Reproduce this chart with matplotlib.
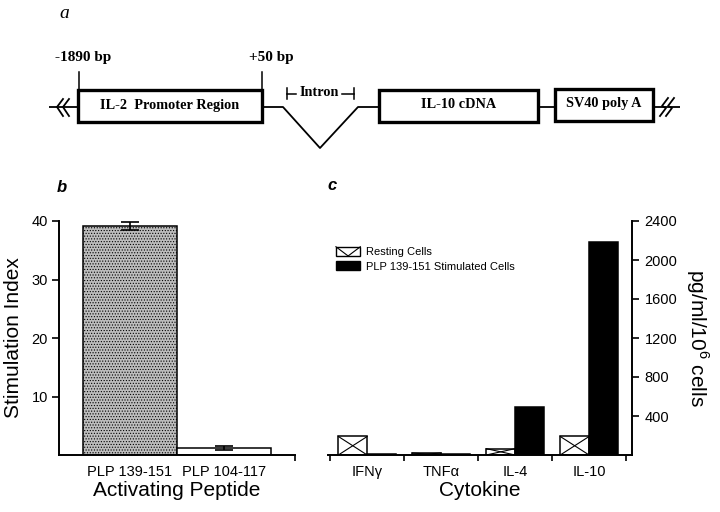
import matplotlib.pyplot as plt
import matplotlib.patches as mpatches
from matplotlib.lines import Line2D
from matplotlib.legend_handler import HandlerBase
import numpy as np

plt.rcParams['font.family'] = ['Liberation Sans', 'DejaVu Sans']
plt.rcParams['hatch.linewidth'] = 0.5
plt.rcParams['hatch.color'] = '#666666'

# panel b - proliferation
peptides = ['PLP 139-151', 'PLP 104-117']
stim_index = [39.2, 1.2]
stim_err = [0.7, 0.3]

# panel c - cytokine secretion
cytokines = ['IFN\u03b3', 'TNF\u03b1', 'IL-4', 'IL-10']
resting = [190, 20, 65, 190]
stimulated = [8, 12, 490, 2185]

# panel a - construct schematic (pixel layout of the drawing)
boxes = [(78, 262, 90, 122, 'IL-2  Promoter Region'),
         (379, 538, 90, 122, 'IL-10 cDNA'),
         (555, 653, 89, 121, 'SV40 poly A')]
line_y = 107
links = [[(49, 107), (78, 107)],
         [(262, 107), (283, 107), (320, 148), (358, 107), (379, 107)],
         [(538, 107), (555, 107)],
         [(653, 107), (680, 107)]]
bp_marks = [(79, '-1890 bp', 83), (262, '+50 bp', 271)]

fig = plt.figure(figsize=(7.2, 5.12), dpi=100)

# ---------- a ----------
axa = fig.add_axes([0, 1 - 170 / 512, 1, 170 / 512])
axa.set_xlim(0, 720)
axa.set_ylim(170, 0)
axa.axis('off')
serif = 'Liberation Serif'

for x0, x1, y0, y1, lab in boxes:
    axa.add_patch(mpatches.Rectangle((x0, y0), x1 - x0, y1 - y0, fill=False,
                                     edgecolor='black', lw=2.4))
    axa.text((x0 + x1) / 2, (y0 + y1) / 2 - 1, lab, ha='center', va='center',
             family=serif, weight='bold', fontsize=10.3)
for pts in links:
    xs, ys = zip(*pts)
    axa.plot(xs, ys, color='black', lw=1.3, solid_capstyle='butt')
for xt, lab, xl in bp_marks:
    axa.plot([xt, xt], [72, 90], color='black', lw=1.1)
    axa.text(xl, 58, lab, ha='center', va='center', family=serif,
             weight='bold', fontsize=11)

# intron bracket
axa.plot([287, 287], [88, 99], color='black', lw=1.1)
axa.plot([287, 296], [93.5, 93.5], color='black', lw=1.1)
axa.plot([342, 354], [93.5, 93.5], color='black', lw=1.1)
axa.plot([354, 354], [88, 99], color='black', lw=1.1)
axa.text(319, 93, 'Intron', ha='center', va='center', family=serif,
         weight='bold', fontsize=10.3)

# break symbols
for bx in [57, 63]:
    axa.plot([bx + 6, bx, bx + 6], [line_y - 8, line_y, line_y + 9],
             color='black', lw=1.3)
for bx in [662, 668]:
    axa.plot([bx + 6, bx, bx + 4, bx - 2], [line_y - 9, line_y - 1, line_y + 1, line_y + 9],
             color='black', lw=1.3)

axa.text(64, 13, 'a', ha='center', va='center', family=serif,
         style='italic', fontsize=14)

# ---------- b ----------
axb = fig.add_axes([59 / 720, 57 / 512, 236 / 720, 234 / 512])
xb = np.arange(len(peptides))
axb.bar(xb, stim_index, width=1.0, color=['#bdbdbd', 'white'],
        edgecolor='black', lw=1.1, hatch=['......', None])
axb.errorbar(xb, stim_index, yerr=stim_err, fmt='none', ecolor='black',
             elinewidth=1.2, capsize=6.5, capthick=1.2, clip_on=False)
axb.set_xlim(-0.75, 1.75)
axb.set_ylim(0, 40)
axb.set_yticks([10, 20, 30, 40])
axb.set_xticks(xb)
axb.set_xticklabels(peptides)
axb.set_xticks([1.75], minor=True)
axb.tick_params(axis='x', which='major', length=0, pad=7, labelsize=10.5)
axb.tick_params(axis='x', which='minor', length=4, width=1.2, direction='out')
axb.tick_params(axis='y', length=5, width=1.2, direction='out', labelsize=10.5, pad=3)
for s in ['top', 'right']:
    axb.spines[s].set_visible(False)
for s in ['left', 'bottom']:
    axb.spines[s].set_linewidth(1.4)
axb.set_ylabel('Stimulation Index', fontsize=15, labelpad=6)
axb.set_xlabel('Activating Peptide', fontsize=15, labelpad=2)
fig.text(62 / 720, 1 - 188 / 512, 'b', ha='center', va='center',
         fontsize=12, weight='bold', style='italic')

# ---------- c ----------
axc = fig.add_axes([328 / 720, 57 / 512, 304 / 720, 234 / 512])
xc = np.arange(len(cytokines))
w = 0.39
bars_rest = axc.bar(xc - w / 2, resting, width=w, color='white',
                    edgecolor='black', lw=1.1, label='Resting Cells')
axc.bar(xc + w / 2, stimulated, width=w, color='black', edgecolor='black',
        lw=1.1, label='PLP 139-151 Stimulated Cells')
for r in bars_rest:
    x0, bw, h = r.get_x(), r.get_width(), r.get_height()
    axc.plot([x0, x0 + bw], [0, h], color='black', lw=0.8)
    axc.plot([x0, x0 + bw], [h, 0], color='black', lw=0.8)

axc.set_xlim(-0.53, 3.58)
axc.set_ylim(0, 2400)
axc.set_xticks(xc)
axc.set_xticklabels(cytokines)
axc.set_xticks(np.arange(-0.5, 4.0, 1.0), minor=True)
axc.tick_params(axis='x', which='major', length=0, pad=7, labelsize=10.5)
axc.tick_params(axis='x', which='minor', length=4, width=1.2, direction='out')
axc.yaxis.tick_right()
axc.yaxis.set_label_position('right')
axc.set_yticks(np.arange(400, 2401, 400))
axc.tick_params(axis='y', length=5, width=1.2, direction='out', labelsize=10.5, pad=4)
for s in ['top', 'left']:
    axc.spines[s].set_visible(False)
for s in ['right', 'bottom']:
    axc.spines[s].set_linewidth(1.4)
axc.set_ylabel('pg/ml/10$^{\\mathregular{6}}$ cells', rotation=270,
               fontsize=15, labelpad=24)
axc.set_xlabel('Cytokine', fontsize=15, labelpad=2)


class HandlerEnvelope(HandlerBase):
    def create_artists(self, legend, orig_handle, xdescent, ydescent,
                       width, height, fontsize, trans):
        x0, y0 = -xdescent, -ydescent
        box = mpatches.Rectangle((x0, y0), width, height, facecolor='white',
                                 edgecolor='black', lw=1.0, transform=trans)
        v = Line2D([x0, x0 + width / 2, x0 + width], [y0 + height, y0, y0 + height],
                   color='black', lw=0.8, transform=trans)
        return [box, v]


h_rest = mpatches.Patch(facecolor='white', edgecolor='black')
h_stim = mpatches.Patch(facecolor='black', edgecolor='black')
axc.legend([h_rest, h_stim], ['Resting Cells', 'PLP 139-151 Stimulated Cells'],
           handler_map={h_rest: HandlerEnvelope()}, loc='upper left',
           bbox_to_anchor=(0.026, 0.89), frameon=False, fontsize=8,
           handlelength=2.2, handleheight=0.9, handletextpad=0.5,
           labelspacing=0.35, borderpad=0, borderaxespad=0)
fig.text(332 / 720, 1 - 186 / 512, 'c', ha='center', va='center',
         fontsize=12, weight='bold', style='italic')

fig.savefig('out.png', dpi=100)
